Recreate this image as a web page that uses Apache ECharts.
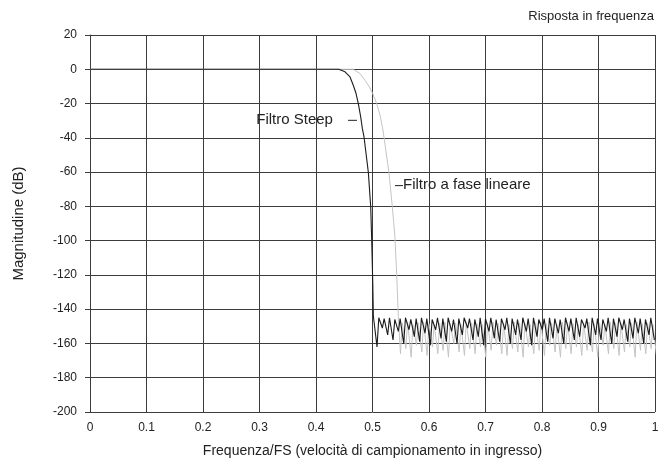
<!DOCTYPE html>
<html>
<head>
<meta charset="utf-8">
<script src="https://cdn.jsdelivr.net/npm/echarts@6/dist/echarts.min.js"></script>
<style>
  html, body { margin: 0; padding: 0; background: #fff; }
  #chart { width: 665px; height: 464px; }
</style>
</head>
<body>
<div id="chart"></div>
<script>
// Axis ticks
const freqTicks = [0, 0.1, 0.2, 0.3, 0.4, 0.5, 0.6, 0.7, 0.8, 0.9, 1];
const dbTicks = [20, 0, -20, -40, -60, -80, -100, -120, -140, -160, -180, -200];

// Steep filter: passband and transition band [f/FS, dB]
const steepEdge = [
  [0, 0], [0.44, 0], [0.4513, -1.5], [0.4602, -4.5], [0.466, -9.3], [0.4708, -14],
  [0.4749, -20], [0.4791, -27.8], [0.482, -34.5], [0.485, -39.5], [0.4926, -60],
  [0.4968, -80], [0.4986, -99.7], [0.5005, -125], [0.5015, -144]
];
// Steep filter stopband ripple: first null frequency, lobe spacing, null depths, lobe tops
const steepFirstNull = 0.508;
const steepLobeSpacing = 0.00944;
const steepNulls = [
  -162, -151, -155, -158, -153, -160, -152, -156, -159, -154,
  -161, -152, -157, -159, -153, -160, -155, -151, -158, -156,
  -161, -153, -157, -159, -152, -160, -155, -158, -153, -161,
  -156, -152, -159, -157, -154, -160, -153, -158, -156, -151,
  -161, -155, -158, -153, -160, -156, -152, -159, -157, -154,
  -160, -155, -158
];
const steepPeaks = [
  -145, -145.5, -145, -146, -145.5, -145, -146, -145.5, -145, -145.5,
  -146, -145, -145.5, -145, -146, -145.5, -145, -145.5, -146, -145,
  -145.5, -145, -146, -145.5, -145, -145.5, -146, -145, -145.5, -145,
  -146, -145.5, -145, -145.5, -146, -145, -145.5, -145, -146, -145.5,
  -145, -145.5, -146, -145, -145.5, -145, -146, -145.5, -145, -145.5,
  -146, -145
];

// Linear-phase filter: passband and transition band [f/FS, dB]
const linearEdge = [
  [0, 0], [0.466, 0], [0.4779, -2.5], [0.4867, -6.4], [0.4944, -10.3], [0.5004, -14.2],
  [0.5074, -20], [0.5133, -26.8], [0.5175, -33.6], [0.5205, -40], [0.529, -60],
  [0.535, -80], [0.5395, -97], [0.5428, -119], [0.5457, -144.4]
];
const linearFirstNull = 0.5495;
const linearLobeSpacing = 0.00944;
const linearNulls = [
  -166, -163, -168, -161, -165, -167, -162, -166, -164, -168,
  -160, -165, -167, -163, -166, -162, -168, -164, -161, -166,
  -167, -163, -165, -168, -162, -166, -164, -167, -161, -165,
  -168, -163, -166, -162, -167, -164, -165, -168, -161, -166,
  -163, -167, -165, -162, -168, -164, -166, -163, -167
];
const linearPeaks = [
  -148, -147.5, -149, -148, -147.5, -148.5, -149, -148, -147.5, -148.5,
  -148, -149, -147.5, -148, -148.5, -149, -148, -147.5, -148.5, -148,
  -149, -147.5, -148, -148.5, -149, -148, -147.5, -148.5, -148, -149,
  -147.5, -148, -148.5, -149, -148, -147.5, -148.5, -148, -149, -147.5,
  -148, -148.5, -149, -148, -147.5, -148.5, -148, -149
];

// Joins the transition edge with the stopband lobes (null, top, top per lobe)
function buildResponse(edge, firstNull, spacing, nulls, peaks) {
  const pts = edge.map(p => p.slice());
  nulls.forEach((v, k) => {
    const f = firstNull + k * spacing;
    pts.push([f, v]);
    if (k < peaks.length) {
      pts.push([f + spacing / 3, peaks[k]]);
      pts.push([f + 2 * spacing / 3, peaks[k]]);
    }
  });
  return pts;
}

const FONT = '"Liberation Sans", Arial, sans-serif';
const TEXT = '#222';
const GRIDC = '#3c3c3c';

const chart = echarts.init(document.getElementById('chart'), null, { renderer: 'canvas' });

chart.setOption({
  animation: false,
  backgroundColor: '#fff',
  textStyle: { fontFamily: FONT, color: TEXT },
  title: {
    text: 'Risposta in frequenza',
    right: 6, top: 5,
    textStyle: { fontFamily: FONT, fontSize: 13, fontWeight: 'normal', color: TEXT }
  },
  grid: { left: 90, right: 10, top: 35, bottom: 52 },
  xAxis: {
    type: 'value',
    min: freqTicks[0],
    max: freqTicks[freqTicks.length - 1],
    interval: 0.1,
    name: 'Frequenza/FS (velocità di campionamento in ingresso)',
    nameLocation: 'middle',
    nameGap: 32,
    nameTextStyle: { fontFamily: FONT, fontSize: 14, color: TEXT },
    axisLine: { lineStyle: { color: GRIDC, width: 1 } },
    axisTick: { show: false },
    axisLabel: {
      fontFamily: FONT, fontSize: 12, color: TEXT, margin: 10,
      formatter: v => String(+v.toFixed(1))
    },
    splitLine: { show: true, lineStyle: { color: GRIDC, width: 1 } }
  },
  yAxis: {
    type: 'value',
    min: dbTicks[dbTicks.length - 1],
    max: dbTicks[0],
    interval: 20,
    name: 'Magnitudine (dB)',
    nameLocation: 'middle',
    nameGap: 64,
    nameTextStyle: { fontFamily: FONT, fontSize: 15, color: TEXT },
    axisLine: { show: true, lineStyle: { color: GRIDC, width: 1 } },
    axisTick: { show: true, inside: false, length: 5, lineStyle: { color: GRIDC } },
    axisLabel: { fontFamily: FONT, fontSize: 12, color: TEXT, margin: 13 },
    splitLine: { show: true, lineStyle: { color: GRIDC, width: 1 } }
  },
  series: [
    {
      name: 'Filtro a fase lineare',
      type: 'line',
      showSymbol: false,
      clip: true,
      data: buildResponse(linearEdge, linearFirstNull, linearLobeSpacing, linearNulls, linearPeaks),
      lineStyle: { color: '#c4c4c4', width: 1 },
      z: 3
    },
    {
      name: 'Filtro Steep',
      type: 'line',
      showSymbol: false,
      clip: true,
      data: buildResponse(steepEdge, steepFirstNull, steepLobeSpacing, steepNulls, steepPeaks),
      lineStyle: { color: '#1c1c1c', width: 1.1 },
      z: 4
    }
  ]
});

// Curve annotations, anchored in data space
function px(f, db) { return chart.convertToPixel({ gridIndex: 0 }, [f, db]); }
const a1Text = px(0.430, -29.5);
const a1From = px(0.4566, -29.5);
const a1To = px(0.4726, -29.5);
const a2From = px(0.5398, -67.6);
const a2To = px(0.554, -67.6);

chart.setOption({
  graphic: [
    {
      type: 'text', x: a1Text[0], y: a1Text[1], z: 10,
      style: { text: 'Filtro Steep', font: '15px ' + FONT, fill: TEXT, align: 'right', verticalAlign: 'middle' }
    },
    {
      type: 'line', z: 10,
      shape: { x1: a1From[0], y1: a1From[1] + 0.5, x2: a1To[0], y2: a1To[1] + 0.5 },
      style: { stroke: '#222', lineWidth: 1 }
    },
    {
      type: 'line', z: 10,
      shape: { x1: a2From[0], y1: a2From[1] + 0.5, x2: a2To[0], y2: a2To[1] + 0.5 },
      style: { stroke: '#222', lineWidth: 1 }
    },
    {
      type: 'text', x: a2To[0], y: a2To[1], z: 10,
      style: { text: 'Filtro a fase lineare', font: '15px ' + FONT, fill: TEXT, align: 'left', verticalAlign: 'middle' }
    }
  ]
});
</script>
</body>
</html>
